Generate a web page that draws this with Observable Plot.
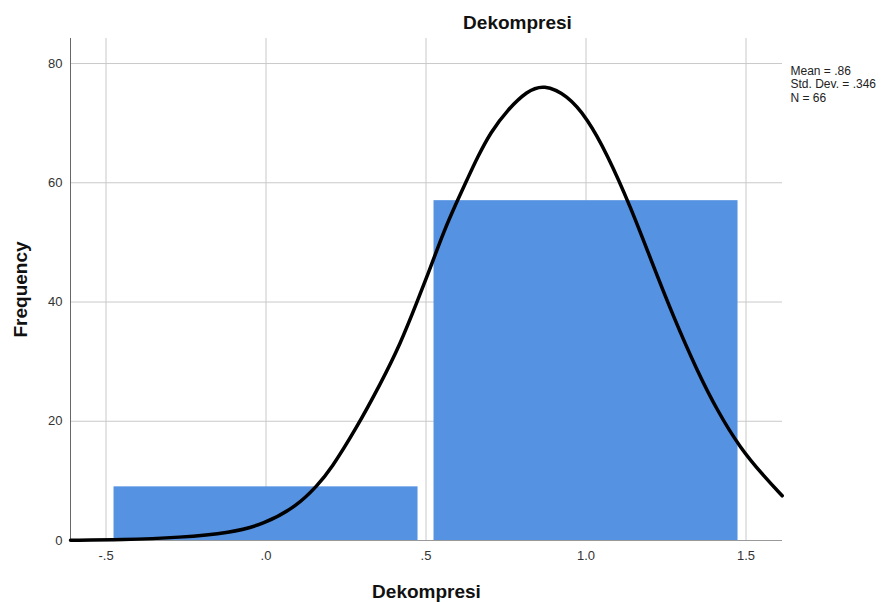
<!DOCTYPE html>
<html>
<head>
<meta charset="utf-8">
<script src="https://cdn.jsdelivr.net/npm/d3@7"></script>
<script src="https://cdn.jsdelivr.net/npm/@observablehq/plot@0.6"></script>
<style>
  html, body { margin: 0; padding: 0; background: #fff; }
</style>
</head>
<body>
<div id="chart"></div>
<script>
// Histogram bins (bin edges) and frequencies
const binStart = [-0.5, 0.5];
const binEnd = [0.5, 1.5];
const counts = [9, 57];

// Normal curve, points
const curveX = [-0.611, -0.45, -0.267, -0.111, -0.007, 0.0975, 0.16, 0.202, 0.281, 0.358, 0.42, 0.472, 0.514, 0.556, 0.597, 0.629, 0.66, 0.702, 0.754, 0.816, 0.868, 0.941, 1.004, 1.066, 1.139, 1.202, 1.274, 1.347, 1.41, 1.483, 1.556, 1.613];
const curveY = [0.05, 0.1, 0.5, 1.3, 2.7, 5.8, 9.2, 11.9, 18.7, 26.3, 33.0, 40.0, 45.8, 51.9, 56.9, 60.6, 64.2, 68.5, 72.2, 75.4, 76.5, 74.7, 70.8, 64.8, 56.0, 47.2, 37.4, 28.5, 21.8, 15.4, 10.8, 7.5];

// Ticks
const xTicks = [-0.5, 0, 0.5, 1.0, 1.5];
const xTickLabels = ["-.5", ".0", ".5", "1.0", "1.5"];
const yTicks = [0, 20, 40, 60, 80];

// Texts
const title = "Dekompresi";
const xLabel = "Dekompresi";
const yLabel = "Frequency";
const legendLines = ["Mean = .86", "Std. Dev. = .346", "N = 66"];

const bins = binStart.map((s, i) => ({x1: s, x2: binEnd[i], count: counts[i]}));
const curve = curveX.map((x, i) => ({x, y: curveY[i]}));

const chart = Plot.plot({
  width: 888,
  height: 602,
  marginLeft: 70,
  marginRight: 106,
  marginTop: 38,
  marginBottom: 62,
  style: {fontFamily: "'Liberation Sans', Arial, sans-serif", background: "#fff", color: "#222"},
  x: {domain: [-0.611, 1.614]},
  y: {domain: [0, 84.2]},
  marks: [
    Plot.gridX(xTicks, {stroke: "#c9c9c9", strokeOpacity: 1}),
    Plot.gridY(yTicks.filter(d => d > 0), {stroke: "#c9c9c9", strokeOpacity: 1}),
    Plot.rectY(bins, {x1: "x1", x2: "x2", y: "count", fill: "#5592e2", insetLeft: 8, insetRight: 8}),
    Plot.ruleY([0], {stroke: "#999"}),
    Plot.frame({anchor: "left", stroke: "#666"}),
    Plot.line(curve, {x: "x", y: "y", stroke: "#000", strokeWidth: 3.5, curve: "basis"}),
    Plot.axisX(xTicks, {tickSize: 0, tickPadding: 10, fontSize: 13, fill: "#333",
      tickFormat: d => xTickLabels[xTicks.indexOf(d)], label: null}),
    Plot.axisY(yTicks, {tickSize: 0, tickPadding: 8, fontSize: 13, fill: "#333", label: null}),
    Plot.text([title], {frameAnchor: "top", textAnchor: "middle", lineAnchor: "middle", dx: 91, dy: -16, fontSize: 19, fontWeight: "bold", fill: "#111"}),
    Plot.text([xLabel], {frameAnchor: "bottom", textAnchor: "middle", lineAnchor: "middle", dy: 51, fontSize: 19, fontWeight: "bold", fill: "#111"}),
    Plot.text([yLabel], {frameAnchor: "left", textAnchor: "middle", lineAnchor: "middle", dx: -50, rotate: -90, fontSize: 19, fontWeight: "bold", fill: "#111"}),
    Plot.text([legendLines.join("\n")], {frameAnchor: "top-right", textAnchor: "start", lineAnchor: "top",
      dx: 8, dy: 27, fontSize: 12, lineHeight: 1.12, fill: "#222"})
  ]
});
document.getElementById("chart").appendChild(chart);
</script>
</body>
</html>
